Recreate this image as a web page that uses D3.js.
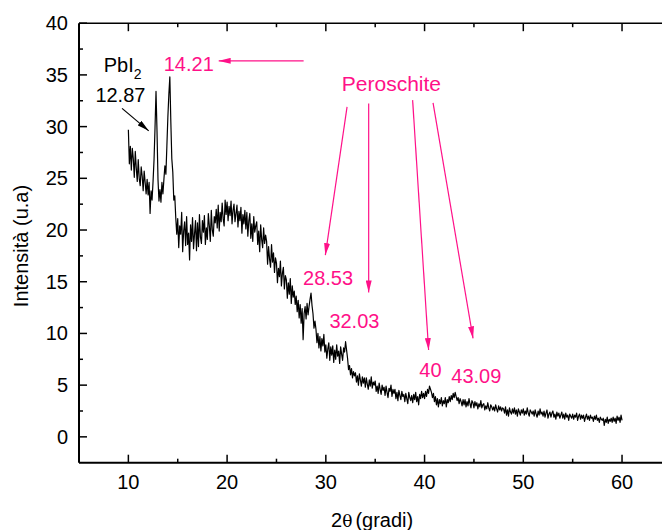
<!DOCTYPE html>
<html>
<head>
<meta charset="utf-8">
<script src="https://cdn.jsdelivr.net/npm/d3@7"></script>
<style>
  body { margin: 0; background: #fff; }
  text { font-family: "Liberation Sans", Arial, sans-serif; }
</style>
</head>
<body>
<div id="chart"></div>
<script>
// XRD scan, 2theta from 10 to 60 in steps of 0.1
var thetaStart = 10, thetaStep = 0.1;
var intensity = [
  29.7, 26.4, 28.1, 25.8, 27.9, 26.9, 25.1, 27.6, 26.0, 24.7,
  26.8, 25.0, 24.3, 26.1, 25.2, 23.8, 25.7, 24.6, 23.5, 24.9,
  23.4, 24.6, 21.6, 23.8, 22.9, 24.7, 26.8, 29.9, 33.4, 29.6,
  24.9, 22.8, 23.9, 22.7, 24.6, 23.5, 24.9, 26.2, 25.4, 28.1,
  30.9, 33.1, 34.8, 30.5, 26.9, 25.6, 22.9, 23.3, 21.2, 19.6,
  21.1, 18.3, 20.4, 19.6, 21.7, 17.9, 19.9, 20.8, 18.5, 21.3,
  18.6, 19.7, 17.1, 20.5, 18.9, 21.2, 18.2, 19.6, 20.9, 18.0,
  20.7, 18.4, 21.5, 19.3, 18.7, 20.9, 19.8, 21.4, 18.6, 20.2,
  19.1, 21.6, 20.4, 18.9, 21.9, 20.0, 19.4, 21.3, 20.7, 22.0,
  20.2, 22.4, 19.9, 21.7, 20.8, 22.6, 21.1, 20.4, 22.9, 21.5,
  22.7, 20.9, 22.3, 21.4, 22.8, 20.6, 21.9, 22.5, 20.8, 21.6,
  22.4, 20.3, 21.8, 20.9, 22.2, 19.7, 21.5, 20.6, 21.9, 20.1,
  21.7, 19.4, 20.9, 21.6, 19.2, 20.6, 18.9, 21.3, 19.8, 20.4,
  20.8, 18.6, 19.9, 17.9, 20.5, 19.1, 18.3, 20.2, 18.7, 19.5,
  18.9, 16.7, 18.4, 17.2, 16.4, 18.6, 16.9, 17.8, 15.9, 17.3,
  16.8, 14.9, 16.3, 15.5, 17.0, 14.6, 15.8, 16.4, 14.3, 15.6,
  15.2, 13.4, 14.9, 13.8, 15.3, 12.9, 14.6, 13.5, 14.1, 12.8,
  13.6, 12.1, 13.2, 11.5, 12.8, 11.0, 12.4, 9.4, 11.9, 12.6,
  11.4, 12.9, 11.8, 12.6, 13.3, 13.9, 12.7, 11.9, 10.5, 11.2,
  10.4, 9.1, 10.0, 8.6, 9.7, 8.3, 9.5, 8.8, 9.9, 8.2,
  8.9, 7.6, 8.5, 9.1, 7.4, 8.7, 7.9, 8.8, 7.2, 8.4,
  7.5, 8.9, 7.8, 8.3, 7.1, 8.7, 8.0, 7.4, 8.6, 8.2,
  9.2, 8.4, 7.6, 6.5, 6.9, 6.0, 6.6, 5.7, 6.3, 5.9,
  6.2, 5.3, 5.9, 5.0, 6.1, 5.5, 4.9, 5.8, 5.2, 5.7,
  4.8, 5.7, 5.1, 4.6, 5.5, 4.9, 5.8, 4.7, 5.3, 5.0,
  5.4, 4.4, 4.9, 4.2, 5.2, 4.6, 4.1, 5.0, 4.5, 4.8,
  4.0, 4.9, 4.3, 3.8, 4.7, 4.4, 5.0, 3.9, 4.6, 4.2,
  4.6, 3.7, 4.3, 3.5, 4.5, 4.0, 3.6, 4.4, 3.9, 4.1,
  3.4, 4.2, 3.7, 3.2, 4.3, 3.8, 3.5, 4.0, 3.3, 4.1,
  3.6, 4.3, 3.4, 3.9, 3.1, 4.1, 3.7, 4.4, 3.8, 4.2,
  3.7, 4.4, 3.9, 4.6, 4.2, 4.9, 4.6, 4.3, 3.8, 4.2,
  3.4, 3.9, 3.1, 3.7, 2.9, 3.6, 3.2, 3.8, 3.0, 3.5,
  3.2, 3.8, 2.9, 3.6, 3.3, 3.9, 3.4, 4.0, 3.6, 4.2,
  3.8, 4.3, 3.9, 3.5, 3.8, 3.2, 3.7, 3.4, 3.0, 3.6,
  3.1, 3.6, 2.9, 3.4, 3.0, 3.7, 3.2, 2.8, 3.5, 3.3,
  2.8, 3.4, 3.0, 3.3, 2.7, 3.2, 2.9, 3.5, 2.8, 3.1,
  3.2, 2.6, 3.0, 2.7, 3.3, 2.8, 2.5, 3.1, 2.9, 2.6,
  2.9, 2.5, 3.1, 2.7, 2.4, 3.0, 2.6, 2.9, 2.5, 2.8,
  2.7, 2.3, 2.9, 2.1, 2.6, 2.0, 2.8, 2.4, 2.2, 2.7,
  2.3, 2.8, 2.2, 2.6, 2.0, 2.7, 2.4, 2.1, 2.6, 2.3,
  2.7, 2.1, 2.5, 2.2, 2.8, 2.3, 2.0, 2.6, 2.4, 2.2,
  2.5, 2.0, 2.6, 2.2, 1.9, 2.5, 2.1, 2.7, 2.2, 2.4,
  2.0, 2.5, 1.9, 2.3, 2.6, 1.8, 2.2, 2.4, 1.9, 2.3,
  2.5, 1.9, 2.2, 1.7, 2.4, 2.0, 2.3, 1.8, 2.1, 2.4,
  1.8, 2.2, 1.7, 2.3, 1.9, 2.1, 1.6, 2.2, 2.0, 1.8,
  2.2, 1.7, 2.1, 1.9, 2.3, 1.6, 2.0, 2.2, 1.7, 2.1,
  1.8, 2.1, 1.5, 1.9, 2.2, 1.7, 2.0, 1.6, 2.1, 1.8,
  1.9, 1.5, 2.0, 1.7, 2.1, 1.6, 1.8, 1.4, 1.9, 1.7,
  1.6, 1.8, 1.1, 1.7, 1.4, 1.9, 1.3, 1.7, 1.5, 1.8,
  1.4, 1.9, 1.5, 1.8, 1.3, 2.0, 1.6, 1.9, 1.4, 2.1,
  1.6
];

var xTicks = [10, 20, 30, 40, 50, 60];
var yTicks = [0, 5, 10, 15, 20, 25, 30, 35, 40];

// annotations, in data units (x = 2theta, y = intensity)
var labels = [
  {text: "12.87", x: 6.66, y: 32.34, color: "#000"},
  {text: "14.21", x: 13.58, y: 35.37, color: "#ff1088"},
  {text: "28.53", x: 27.69, y: 14.67, color: "#ff1088"},
  {text: "32.03", x: 30.36, y: 10.51, color: "#ff1088"},
  {text: "40", x: 39.47, y: 5.77, color: "#ff1088"},
  {text: "43.09", x: 42.71, y: 5.19, color: "#ff1088"}
];
var arrows = [
  {x1: 9.36, y1: 31.76, x2: 12.06, y2: 29.59, color: "#000"},
  {x1: 27.75, y1: 36.36, x2: 19.15, y2: 36.36, color: "#ff1088"},
  {x1: 32.15, y1: 31.91, x2: 29.95, y2: 17.57, color: "#ff1088"},
  {x1: 34.34, y1: 32.24, x2: 34.34, y2: 13.97, color: "#ff1088"},
  {x1: 38.79, y1: 32.56, x2: 40.41, y2: 8.39, color: "#ff1088"},
  {x1: 40.86, y1: 32.30, x2: 44.91, y2: 9.52, color: "#ff1088"}
];

var width = 662, height = 530;
var pink = "#ff1088";

var svg = d3.select("#chart").append("svg")
    .attr("width", width)
    .attr("height", height);

var x = d3.scaleLinear().domain([5, 65]).range([79, 671.4]);
var y = d3.scaleLinear().domain([-2.5, 40]).range([462.7, 23.2]);

var defs = svg.append("defs");
["#000", pink].forEach(function(c, i) {
  defs.append("marker")
      .attr("id", "head" + i)
      .attr("markerUnits", "userSpaceOnUse")
      .attr("viewBox", "0 0 12 6")
      .attr("refX", 12).attr("refY", 3)
      .attr("markerWidth", 12).attr("markerHeight", 6)
      .attr("orient", "auto")
    .append("path")
      .attr("d", "M0,0L12,3L0,6Z")
      .attr("fill", c);
});

// frame
svg.append("line")
    .attr("x1", x(5)).attr("x2", x(65))
    .attr("y1", y(-2.5)).attr("y2", y(-2.5))
    .attr("stroke", "#000").attr("stroke-width", 2);
svg.append("line")
    .attr("x1", x(5)).attr("x2", x(65))
    .attr("y1", y(40)).attr("y2", y(40))
    .attr("stroke", "#000").attr("stroke-width", 1.5);
svg.append("line")
    .attr("x1", x(5)).attr("x2", x(5))
    .attr("y1", y(-2.5)).attr("y2", y(40))
    .attr("stroke", "#000").attr("stroke-width", 2);

// ticks (inward)
var xMinor = d3.range(15, 65, 10);
var yMinor = d3.range(2.5, 40, 5);
var tickG = svg.append("g").attr("stroke", "#000").attr("stroke-width", 1.5);
xTicks.forEach(function(t) {
  tickG.append("line").attr("x1", x(t)).attr("x2", x(t))
      .attr("y1", y(-2.5)).attr("y2", y(-2.5) - 8);
  tickG.append("line").attr("x1", x(t)).attr("x2", x(t))
      .attr("y1", y(40)).attr("y2", y(40) + 8);
});
xMinor.forEach(function(t) {
  tickG.append("line").attr("x1", x(t)).attr("x2", x(t))
      .attr("y1", y(-2.5)).attr("y2", y(-2.5) - 4);
  tickG.append("line").attr("x1", x(t)).attr("x2", x(t))
      .attr("y1", y(40)).attr("y2", y(40) + 4);
});
yTicks.forEach(function(t) {
  tickG.append("line").attr("x1", x(5)).attr("x2", x(5) + 8)
      .attr("y1", y(t)).attr("y2", y(t));
});
yMinor.forEach(function(t) {
  tickG.append("line").attr("x1", x(5)).attr("x2", x(5) + 4)
      .attr("y1", y(t)).attr("y2", y(t));
});

// tick labels
svg.append("g").selectAll("text")
    .data(xTicks)
  .enter().append("text")
    .attr("x", function(d) { return x(d); })
    .attr("y", 489)
    .attr("text-anchor", "middle")
    .attr("font-size", 20)
    .text(function(d) { return d; });

svg.append("g").selectAll("text")
    .data(yTicks)
  .enter().append("text")
    .attr("x", 68)
    .attr("y", function(d) { return y(d) + 7; })
    .attr("text-anchor", "end")
    .attr("font-size", 20)
    .text(function(d) { return d; });

// axis titles
var xt = svg.append("text")
    .attr("x", 331).attr("y", 527)
    .attr("font-size", 20);
xt.append("tspan").text("2");
xt.append("tspan").attr("font-size", 17).attr("font-family", "DejaVu Serif").text("θ");
xt.append("tspan").attr("dx", 3).text("(gradi)");

svg.append("text")
    .attr("transform", "translate(28,246) rotate(-90)")
    .attr("text-anchor", "middle")
    .attr("font-size", 20)
    .text("Intensità (u.a)");

// data line
var line = d3.line()
    .x(function(d, i) { return x(thetaStart + i * thetaStep); })
    .y(function(d) { return y(d); });

svg.append("path")
    .datum(intensity)
    .attr("d", line)
    .attr("fill", "none")
    .attr("stroke", "#000")
    .attr("stroke-width", 1.2)
    .attr("stroke-linejoin", "round");

// annotations
svg.append("g").selectAll("line")
    .data(arrows)
  .enter().append("line")
    .attr("x1", function(d) { return x(d.x1); })
    .attr("y1", function(d) { return y(d.y1); })
    .attr("x2", function(d) { return x(d.x2); })
    .attr("y2", function(d) { return y(d.y2); })
    .attr("stroke", function(d) { return d.color; })
    .attr("stroke-width", 1.2)
    .attr("marker-end", function(d) { return d.color === "#000" ? "url(#head0)" : "url(#head1)"; });

svg.append("g").selectAll("text")
    .data(labels)
  .enter().append("text")
    .attr("x", function(d) { return x(d.x); })
    .attr("y", function(d) { return y(d.y); })
    .attr("font-size", 20)
    .attr("fill", function(d) { return d.color; })
    .text(function(d) { return d.text; });

var pb = svg.append("text")
    .attr("x", x(7.5)).attr("y", y(35.3))
    .attr("font-size", 20);
pb.append("tspan").text("PbI");
pb.append("tspan").attr("font-size", 14).attr("dy", 7).text("2");

svg.append("text")
    .attr("x", x(36.64)).attr("y", y(33.43))
    .attr("text-anchor", "middle")
    .attr("font-size", 21)
    .attr("fill", pink)
    .text("Peroschite");
</script>
</body>
</html>
